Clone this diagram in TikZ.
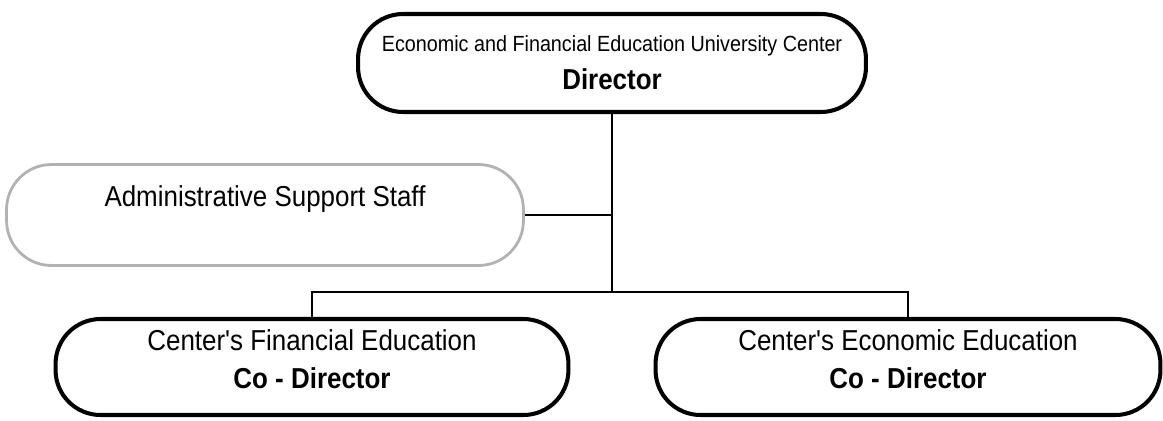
\documentclass[tikz,border=0pt]{standalone}
\usepackage{fontspec}
\newfontfamily\orgfont[FakeStretch=0.9]{Liberation Sans}
\usetikzlibrary{positioning}

\begin{document}
\begin{tikzpicture}[x=0.02cm, y=-0.02cm,
    unit/.style = {draw, line width=2.3pt, rounded corners=0.9cm, align=center, inner sep=0pt,
      font=\orgfont\fontsize{16.4}{21.6}\selectfont},
    support/.style = {unit, draw=gray!60, line width=1.6pt},
    link/.style = {line width=0.8pt}]
    \useasboundingbox (0,0) rectangle (1163,420);

    \node[unit, minimum width=10.16cm, minimum height=1.96cm] (director) at (612,63)
      {{\fontsize{12.5}{15}\selectfont Economic and Financial Education University Center}\\ \textbf{Director}};
    \node[support, minimum width=10.34cm, minimum height=2.02cm, text height=0.42cm, text depth=0.76cm] (admin) at (265,215)
      {Administrative Support Staff};
    \node[unit, minimum width=10.26cm, minimum height=1.92cm, text depth=0.3cm] (fincodir) at (312,367)
      {Center's Financial Education\\ \textbf{Co - Director}};
    \node[unit, minimum width=10.1cm, minimum height=1.92cm, text depth=0.3cm] (ecocodir) at (908,367)
      {Center's Economic Education\\ \textbf{Co - Director}};

    \coordinate (split) at (612,292);
    \draw[link] (director) -- (split);
    \draw[link] (admin) -- (admin -| director);
    \draw[link] (fincodir) |- (split) -| (ecocodir);
  \end{tikzpicture}
\end{document}
